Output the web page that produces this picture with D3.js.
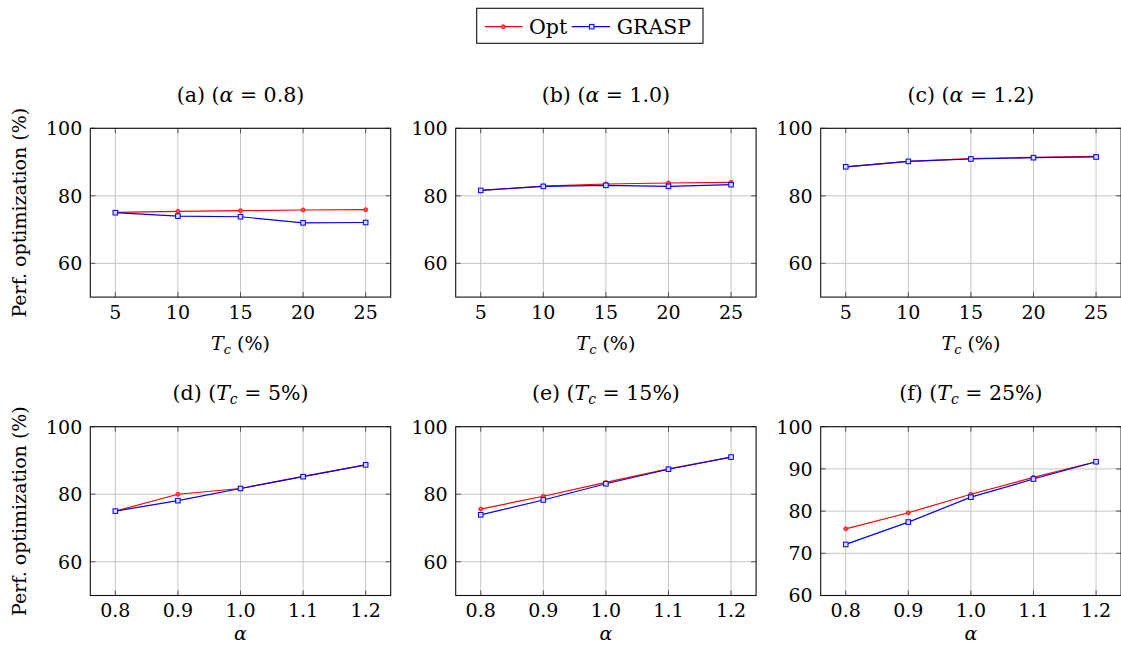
<!DOCTYPE html>
<html>
<head>
<meta charset="utf-8">
<script src="https://cdn.jsdelivr.net/npm/d3@7"></script>
<style>
  html, body { margin: 0; padding: 0; background: #fff; }
  svg { display: block; }
  svg text { font-family: "DejaVu Serif", serif; fill: #000; }
</style>
</head>
<body>
<svg id="chart" width="1121" height="646"></svg>
<script>
// ---------- data ----------
const seriesNames = ["Opt", "GRASP"];
const tcValues = [5, 10, 15, 20, 25];
const alphaValues = [0.8, 0.9, 1.0, 1.1, 1.2];

const optA = [75.1, 75.4, 75.6, 75.8, 75.9];
const graspA = [75.0, 74.0, 73.8, 72.0, 72.1];
const optB = [81.6, 82.9, 83.5, 83.8, 84.0];
const graspB = [81.6, 82.8, 83.1, 82.8, 83.3];
const optC = [88.6, 90.2, 91.0, 91.4, 91.7];
const graspC = [88.6, 90.2, 90.9, 91.3, 91.5];
const optD = [75.0, 80.0, 81.7, 85.3, 88.7];
const graspD = [75.0, 78.1, 81.7, 85.2, 88.7];
const optE = [75.6, 79.4, 83.5, 87.5, 91.0];
const graspE = [73.9, 78.3, 83.1, 87.4, 91.0];
const optF = [75.8, 79.6, 84.0, 88.0, 91.7];
const graspF = [72.1, 77.4, 83.3, 87.6, 91.7];

const yTicksMain = [60, 80, 100];
const yTicksF = [60, 70, 80, 90, 100];

const panelLetters = ["a", "b", "c", "d", "e", "f"];
const panelParams = ["0.8", "1.0", "1.2", "5%", "15%", "25%"];

// ---------- layout ----------
const colX = [90.3, 455.7, 820.7];
const rowY = [128.3, 426.7];
const pw = 300.4, ph = 168.8;
const colors = { Opt: "#ff0000", GRASP: "#0000ff" };
const FS = 19;
const FStitle = 20.5;
const FSsub = 13;

const svg = d3.select("#chart");

const panels = [
  { r: 0, c: 0, x: tcValues, opt: optA, grasp: graspA, yDom: [50, 100], yTicks: yTicksMain },
  { r: 0, c: 1, x: tcValues, opt: optB, grasp: graspB, yDom: [50, 100], yTicks: yTicksMain },
  { r: 0, c: 2, x: tcValues, opt: optC, grasp: graspC, yDom: [50, 100], yTicks: yTicksMain },
  { r: 1, c: 0, x: alphaValues, opt: optD, grasp: graspD, yDom: [50, 100], yTicks: yTicksMain },
  { r: 1, c: 1, x: alphaValues, opt: optE, grasp: graspE, yDom: [50, 100], yTicks: yTicksMain },
  { r: 1, c: 2, x: alphaValues, opt: optF, grasp: graspF, yDom: [60, 100], yTicks: yTicksF }
];

panels.forEach((p, i) => {
  const x0 = colX[p.c], y0 = rowY[p.r];
  const g = svg.append("g").attr("transform", `translate(${x0},${y0})`);
  const xs = p.x;
  const span = xs[xs.length - 1] - xs[0];
  const x = d3.scaleLinear().domain([xs[0] - span * 0.1, xs[xs.length - 1] + span * 0.1]).range([0, pw]);
  const y = d3.scaleLinear().domain(p.yDom).range([ph, 0]);
  const fmt = p.r === 0 ? d3.format("d") : d3.format(".1f");

  // grid
  g.append("g").selectAll("line").data(xs).join("line")
    .attr("x1", d => x(d)).attr("x2", d => x(d)).attr("y1", 0).attr("y2", ph)
    .attr("stroke", "#c6c6c6").attr("stroke-width", 1);
  g.append("g").selectAll("line").data(p.yTicks).join("line")
    .attr("x1", 0).attr("x2", pw).attr("y1", d => y(d)).attr("y2", d => y(d))
    .attr("stroke", "#c6c6c6").attr("stroke-width", 1);

  // tick marks (inside, all four sides)
  const tl = 5;
  const tg = g.append("g").attr("stroke", "#555").attr("stroke-width", 1);
  xs.forEach(d => {
    tg.append("line").attr("x1", x(d)).attr("x2", x(d)).attr("y1", ph).attr("y2", ph - tl);
    tg.append("line").attr("x1", x(d)).attr("x2", x(d)).attr("y1", 0).attr("y2", tl);
  });
  p.yTicks.forEach(d => {
    tg.append("line").attr("x1", 0).attr("x2", tl).attr("y1", y(d)).attr("y2", y(d));
    tg.append("line").attr("x1", pw).attr("x2", pw - tl).attr("y1", y(d)).attr("y2", y(d));
  });

  // lines + markers
  const line = d3.line().x((d, j) => x(xs[j])).y(d => y(d));
  g.append("path").datum(p.opt).attr("d", line)
    .attr("fill", "none").attr("stroke", colors.Opt).attr("stroke-width", 1.2);
  g.append("g").selectAll("circle").data(p.opt).join("circle")
    .attr("cx", (d, j) => x(xs[j])).attr("cy", d => y(d)).attr("r", 2)
    .attr("fill", "#ff5050").attr("stroke", colors.Opt).attr("stroke-width", 0.8);
  g.append("path").datum(p.grasp).attr("d", line)
    .attr("fill", "none").attr("stroke", colors.GRASP).attr("stroke-width", 1.2);
  g.append("g").selectAll("rect").data(p.grasp).join("rect")
    .attr("x", (d, j) => x(xs[j]) - 2.3).attr("y", d => y(d) - 2.3)
    .attr("width", 4.6).attr("height", 4.6)
    .attr("fill", "#d8d8ff").attr("stroke", colors.GRASP).attr("stroke-width", 1);

  // box
  g.append("rect").attr("x", 0).attr("y", 0).attr("width", pw).attr("height", ph)
    .attr("fill", "none").attr("stroke", "#111").attr("stroke-width", 1.1);

  // tick labels
  g.append("g").selectAll("text").data(xs).join("text")
    .attr("x", d => x(d)).attr("y", ph + 22).attr("text-anchor", "middle")
    .attr("font-size", FS).text(d => fmt(d));
  g.append("g").selectAll("text").data(p.yTicks).join("text")
    .attr("x", -8).attr("y", d => y(d) + 7).attr("text-anchor", "end")
    .attr("font-size", FS).text(d => d);

  // title
  const t = g.append("text").attr("x", pw / 2).attr("y", p.r === 0 ? -26 : -27)
    .attr("text-anchor", "middle").attr("font-size", FStitle);
  t.append("tspan").text(`(${panelLetters[i]}) (`);
  if (p.r === 0) {
    t.append("tspan").attr("font-style", "italic").text("α");
    t.append("tspan").text(` = ${panelParams[i]})`);
  } else {
    t.append("tspan").attr("font-style", "italic").text("T");
    t.append("tspan").attr("font-style", "italic").attr("font-size", 14).attr("dy", 4).text("c");
    t.append("tspan").attr("dy", -4).text(` = ${panelParams[i]})`);
  }

  // x-axis label
  const xl = g.append("text").attr("x", pw / 2).attr("text-anchor", "middle").attr("font-size", FS);
  if (p.r === 0) {
    xl.attr("y", ph + 53);
    xl.append("tspan").attr("font-style", "italic").text("T");
    xl.append("tspan").attr("font-style", "italic").attr("font-size", FSsub).attr("dy", 4).text("c");
    xl.append("tspan").attr("dy", -4).text(" (%)");
  } else {
    xl.attr("y", ph + 45).attr("font-style", "italic").text("α");
  }

  // y-axis label
  if (p.c === 0) {
    g.append("text").attr("transform", `translate(-64,${ph / 2}) rotate(-90)`)
      .attr("text-anchor", "middle").attr("font-size", FS)
      .text("Perf. optimization (%)");
  }
});

// ---------- legend ----------
const lg = svg.append("g");
lg.append("rect").attr("x", 476.7).attr("y", 8.3).attr("width", 226.3).attr("height", 35)
  .attr("fill", "#fff").attr("stroke", "#111").attr("stroke-width", 1.1);
lg.append("line").attr("x1", 485).attr("x2", 522.7).attr("y1", 26.7).attr("y2", 26.7)
  .attr("stroke", colors.Opt).attr("stroke-width", 1.2);
lg.append("circle").attr("cx", 503.3).attr("cy", 26.7).attr("r", 2)
  .attr("fill", "#ff5050").attr("stroke", colors.Opt).attr("stroke-width", 0.8);
lg.append("text").attr("x", 529).attr("y", 33.5).attr("font-size", 20.5).text(seriesNames[0]);
lg.append("line").attr("x1", 571.7).attr("x2", 610).attr("y1", 26.7).attr("y2", 26.7)
  .attr("stroke", colors.GRASP).attr("stroke-width", 1.2);
lg.append("rect").attr("x", 591.7 - 2.3).attr("y", 26.7 - 2.3).attr("width", 4.6).attr("height", 4.6)
  .attr("fill", "#d8d8ff").attr("stroke", colors.GRASP).attr("stroke-width", 1);
lg.append("text").attr("x", 616.7).attr("y", 33.5).attr("font-size", 20.5).text(seriesNames[1]);
</script>
</body>
</html>
